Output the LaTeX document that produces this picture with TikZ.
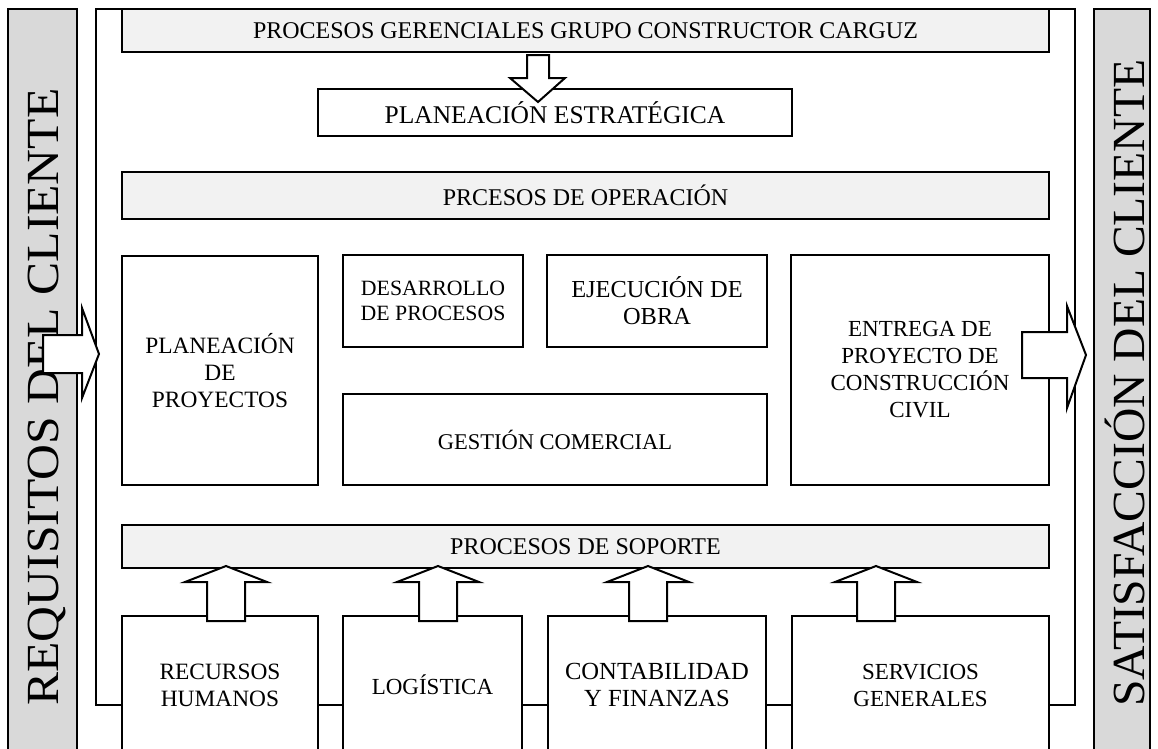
\documentclass[tikz,border=0pt]{standalone}
\usepackage{fontspec}
\setmainfont{Liberation Serif}
\definecolor{sidefill}{HTML}{D9D9D9}
\definecolor{barfill}{HTML}{F2F2F2}
\newcommand\rbox[7][]{\node[box,#1,minimum width={#5-#3},minimum height={#6-#4}] (#2) at ({(#3+#5)/2},{(#4+#6)/2}) {#7};}
\newcommand\fs[1]{\fontsize{#1}{27}\selectfont}
\begin{document}
\begin{tikzpicture}[x=1pt,y=-1pt,
  box/.style={draw,line width=2.6pt,fill=white,inner sep=0pt,align=center,font=\fs{23}},
  bar/.style={fill=barfill},
  side/.style={draw,line width=2.6pt,fill=sidefill},
  sidetext/.style={rotate=90,font=\fontsize{46}{46}\selectfont,inner sep=0pt},
  frame/.style={draw,line width=2pt},
  blockarrow/.style={draw,line width=2pt,fill=white,line join=miter}]
\useasboundingbox (0,0) rectangle (1158,748);
\clip (0,0) rectangle (1158,748);
% outer frame
\draw[frame] (96,9) rectangle (1075,705);
% side bars
\draw[side] (8,9) rectangle (77,760);
\draw[side] (1094,9) rectangle (1150,760);
\node[sidetext,xscale=1.08] (req) at (47,397) {REQUISITOS DEL CLIENTE};
\node[sidetext,xscale=1.035] (sat) at (1125,383) {SATISFACCIÓN DEL CLIENTE};
% top
\rbox[bar,font=\fs{24}]{ger}{122}{9}{1049}{52}{PROCESOS GERENCIALES GRUPO CONSTRUCTOR CARGUZ}
\rbox[font=\fs{25.5}]{plan}{318}{89}{792}{136}{PLANEACIÓN ESTRATÉGICA}
\rbox[bar,font=\fs{24}]{oper}{122}{172}{1049}{219}{PRCESOS DE OPERACIÓN}
% operation
\rbox[font=\fs{23.4}]{pproy}{122}{256}{318}{485}{PLANEACIÓN\\DE\\PROYECTOS}
\rbox[font=\fontsize{21.8}{25}\selectfont]{desa}{343}{255}{523}{347}{DESARROLLO\\DE PROCESOS}
\rbox[font=\fs{24.4}]{ejec}{547}{255}{767}{347}{EJECUCIÓN DE\\OBRA}
\rbox[font=\fs{22.5}]{gest}{343}{394}{767}{485}{GESTIÓN COMERCIAL}
\rbox{entr}{791}{255}{1049}{485}{ENTREGA DE\\PROYECTO DE\\CONSTRUCCIÓN\\CIVIL}
% support
\rbox[bar,font=\fs{24}]{sop}{122}{525}{1049}{568}{PROCESOS DE SOPORTE}
\rbox[font=\fs{23.4}]{rrhh}{122}{616}{318}{754}{RECURSOS\\HUMANOS}
\rbox{logi}{343}{616}{522}{754}{LOGÍSTICA}
\rbox[font=\fs{24.6}]{cont}{548}{616}{766}{754}{CONTABILIDAD\\Y FINANZAS}
\rbox{serv}{792}{616}{1049}{754}{SERVICIOS\\GENERALES}
% block arrows
\draw[blockarrow] (527,55)--(549,55)--(549,78)--(565,78)--(538,102)--(510,78)--(527,78)--cycle;
\foreach \cx in {226,438,648,876}{
  \draw[blockarrow] (\cx-19,621)--(\cx-19,582)--(\cx-41,582)--(\cx,566)--(\cx+41,582)--(\cx+19,582)--(\cx+19,621)--cycle;
}
\draw[blockarrow] (43,335)--(82,335)--(82,308)--(99,354)--(82,398)--(82,373)--(43,373)--cycle;
\draw[blockarrow] (1022,332)--(1067,332)--(1067,306)--(1086,355)--(1067,408)--(1067,378)--(1022,378)--cycle;
\end{tikzpicture}
\end{document}
